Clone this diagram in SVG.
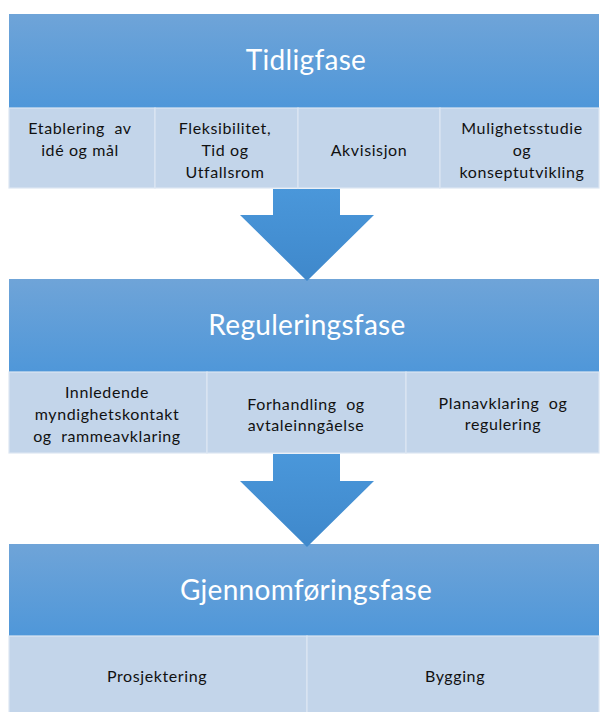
<svg xmlns="http://www.w3.org/2000/svg" width="600" height="712" viewBox="0 0 600 712">
  <defs>
    <linearGradient id="hdr" x1="0" y1="0" x2="0" y2="1">
      <stop offset="0" stop-color="#6fa4d8"/>
      <stop offset="1" stop-color="#4f97d9"/>
    </linearGradient>
    <linearGradient id="arw" x1="0" y1="0" x2="0" y2="1">
      <stop offset="0" stop-color="#4a97da"/>
      <stop offset="1" stop-color="#3f88cb"/>
    </linearGradient>
  </defs>
  <style>
    .hdr { fill: url(#hdr); }
    .cell { fill: #c3d5ea; stroke: #dce6f2; stroke-width: 1.2; }
    .arrow { fill: url(#arw); }
    .title { font-family: Lato, "Liberation Sans", sans-serif; font-size: 28px; letter-spacing: 0.3px; fill: #ffffff; text-anchor: middle; }
    .lbl { font-family: Lato, "Liberation Sans", sans-serif; font-size: 16px; letter-spacing: 0.6px; fill: #111111; text-anchor: middle; white-space: pre; }
  </style>
  <rect width="600" height="712" fill="#ffffff"/>

  <!-- Phase 1 -->
  <g id="tidligfase">
    <rect class="hdr" x="9" y="14" width="590" height="94"/>
    <text class="title" x="306" y="70">Tidligfase</text>
  </g>
  <g id="etablering">
    <rect class="cell" x="9" y="108" width="146" height="80"/>
    <text class="lbl" x="80" y="134" xml:space="preserve">Etablering  av</text>
    <text class="lbl" x="80" y="156">idé og mål</text>
  </g>
  <g id="fleksibilitet">
    <rect class="cell" x="155" y="108" width="143" height="80"/>
    <text class="lbl" x="225" y="134">Fleksibilitet,</text>
    <text class="lbl" x="225" y="156">Tid og</text>
    <text class="lbl" x="225" y="178">Utfallsrom</text>
  </g>
  <g id="akvisisjon">
    <rect class="cell" x="298" y="108" width="142" height="80"/>
    <text class="lbl" x="369" y="156">Akvisisjon</text>
  </g>
  <g id="mulighetsstudie">
    <rect class="cell" x="440" y="108" width="159" height="80"/>
    <text class="lbl" x="522" y="134">Mulighetsstudie</text>
    <text class="lbl" x="522" y="156">og</text>
    <text class="lbl" x="522" y="178">konseptutvikling</text>
  </g>

  <!-- Phase 2 -->
  <g id="reguleringsfase">
    <rect class="hdr" x="9" y="279" width="590" height="93"/>
    <text class="title" x="307" y="335">Reguleringsfase</text>
  </g>
  <g id="innledende">
    <rect class="cell" x="9" y="372" width="198" height="81"/>
    <text class="lbl" x="107" y="398">Innledende</text>
    <text class="lbl" x="107" y="420">myndighetskontakt</text>
    <text class="lbl" x="107" y="442" xml:space="preserve">og  rammeavklaring</text>
  </g>
  <g id="forhandling">
    <rect class="cell" x="207" y="372" width="199" height="81"/>
    <text class="lbl" x="306" y="410" xml:space="preserve">Forhandling  og</text>
    <text class="lbl" x="306" y="431">avtaleinngåelse</text>
  </g>
  <g id="planavklaring">
    <rect class="cell" x="406" y="372" width="193" height="81"/>
    <text class="lbl" x="503" y="409" xml:space="preserve">Planavklaring  og</text>
    <text class="lbl" x="503" y="430">regulering</text>
  </g>

  <!-- Phase 3 -->
  <g id="gjennomforingsfase">
    <rect class="hdr" x="9" y="544" width="590" height="92"/>
    <text class="title" x="306" y="600">Gjennomføringsfase</text>
  </g>
  <g id="prosjektering">
    <rect class="cell" x="9" y="636" width="298" height="78"/>
    <text class="lbl" x="157" y="682">Prosjektering</text>
  </g>
  <g id="bygging">
    <rect class="cell" x="307" y="636" width="292" height="78"/>
    <text class="lbl" x="455" y="682">Bygging</text>
  </g>

  <!-- Connectors -->
  <g id="connectors">
    <polygon class="arrow" points="273,189 340,189 340,215 374,215 307,281 240,215 273,215"/>
    <polygon class="arrow" points="273,454 340,454 340,481 374,481 307,547 240,481 273,481"/>
  </g>
</svg>
